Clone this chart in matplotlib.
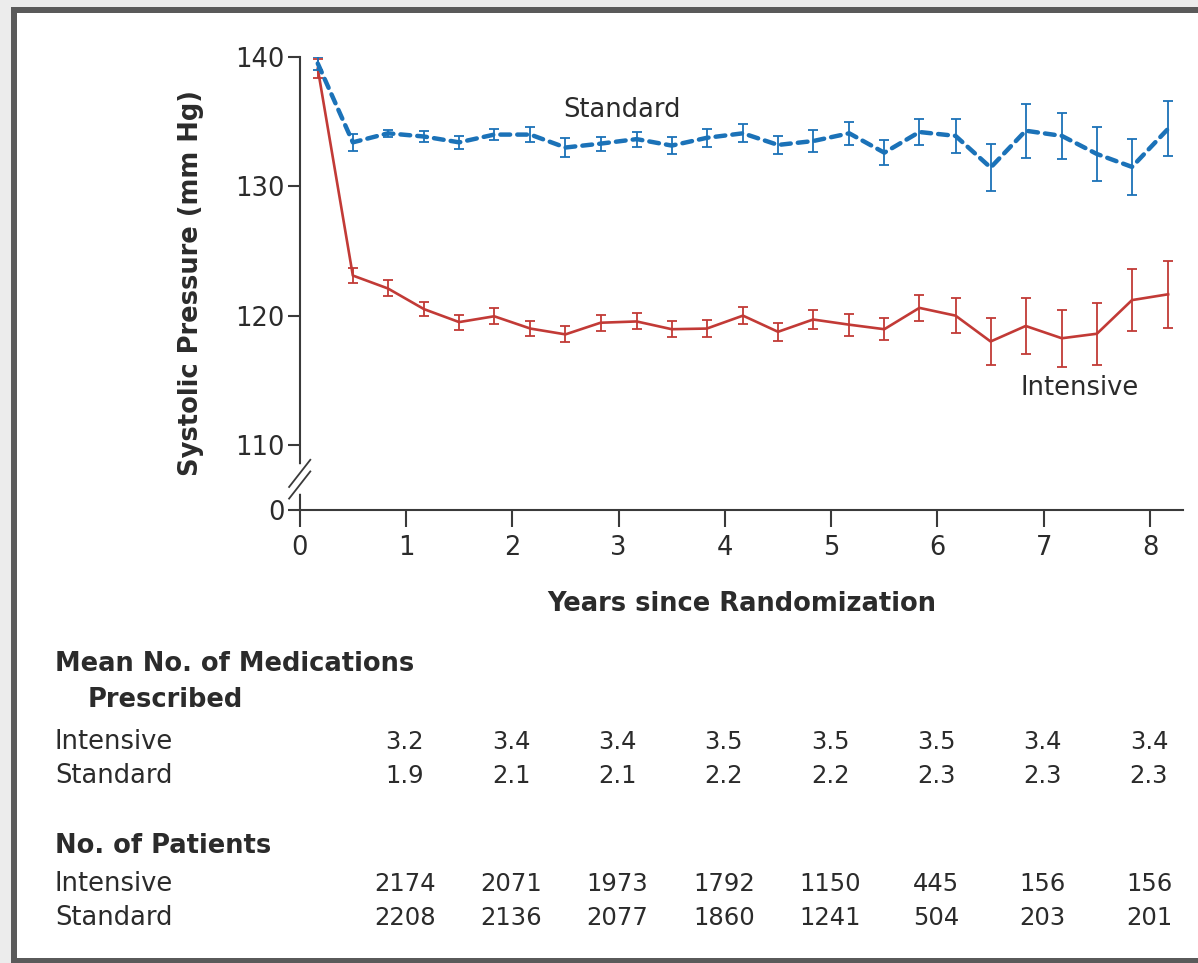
import numpy as np
import matplotlib
matplotlib.use('Agg')
import matplotlib.pyplot as plt
from matplotlib import transforms
from matplotlib.patches import Rectangle
from matplotlib.lines import Line2D

# visit times (years since randomization)
years = [0.17, 0.5, 0.83, 1.17, 1.5, 1.83, 2.17, 2.5, 2.83, 3.17, 3.5, 3.83,
         4.17, 4.5, 4.83, 5.17, 5.5, 5.83, 6.17, 6.5, 6.83, 7.17, 7.5, 7.83, 8.17]

standard = [139.5, 133.4, 134.1, 133.85, 133.4, 134.0, 134.0, 133.0, 133.3, 133.65,
            133.15, 133.75, 134.1, 133.2, 133.5, 134.1, 132.6, 134.2, 133.9, 131.45,
            134.3, 133.9, 132.5, 131.5, 134.45]
standard_ci = [0.5, 0.67, 0.28, 0.39, 0.48, 0.41, 0.58, 0.7, 0.54, 0.58, 0.64, 0.68,
               0.7, 0.67, 0.85, 0.88, 0.95, 1.0, 1.3, 1.82, 2.08, 1.8, 2.08, 2.14, 2.14]

intensive = [139.1, 123.1, 122.1, 120.5, 119.5, 119.95, 119.0, 118.55, 119.45, 119.55,
             118.95, 119.0, 120.0, 118.75, 119.7, 119.3, 118.95, 120.6, 120.0, 118.0,
             119.2, 118.25, 118.6, 121.2, 121.65]
intensive_ci = [0.75, 0.6, 0.62, 0.55, 0.58, 0.62, 0.59, 0.62, 0.62, 0.62, 0.64, 0.64,
                0.68, 0.7, 0.75, 0.84, 0.86, 1.0, 1.33, 1.8, 2.15, 2.2, 2.39, 2.37, 2.58]

# table below the plot
table_years = [1, 2, 3, 4, 5, 6, 7, 8]
meds_intensive = ['3.2', '3.4', '3.4', '3.5', '3.5', '3.5', '3.4', '3.4']
meds_standard = ['1.9', '2.1', '2.1', '2.2', '2.2', '2.3', '2.3', '2.3']
n_intensive = [2174, 2071, 1973, 1792, 1150, 445, 156, 156]
n_standard = [2208, 2136, 2077, 1860, 1241, 504, 203, 201]

BLUE = '#1b72b8'
RED = '#c23a36'
INK = '#2b2b2b'
AXC = '#3a3a3a'

plt.rcParams['font.family'] = ['DejaVu Sans']

W, H = 1198, 963
fig = plt.figure(figsize=(W / 100, H / 100), dpi=100)

# page frame
fig.add_artist(Rectangle((0, 0), 1, 1, transform=fig.transFigure, facecolor='#ececec',
                         edgecolor='none', zorder=-10))
fig.add_artist(Rectangle((11 / W, 0), 1, (H - 7) / H, transform=fig.transFigure,
                         facecolor='#5a5a5a', edgecolor='none', zorder=-9))
fig.add_artist(Rectangle((17 / W, 5 / H), 1, (H - 18) / H, transform=fig.transFigure,
                         facecolor='white', edgecolor='none', zorder=-8))

# y axis: 0 sits just under 110 after the break
y_zero = 105
ax = fig.add_axes([299.7 / W, 1 - 509.6 / H, 883.3 / W, 452.6 / H])
ax.set_xlim(0, 8.31)
ax.set_ylim(y_zero, 140)
ax.patch.set_alpha(0)

ax.errorbar(years, intensive, yerr=intensive_ci, fmt='none', ecolor=RED,
            elinewidth=1.3, capsize=3.5, capthick=1.3, zorder=3)
ax.plot(years, intensive, color=RED, lw=1.9, zorder=4)

ax.errorbar(years, standard, yerr=standard_ci, fmt='none', ecolor=BLUE,
            elinewidth=1.3, capsize=3.5, capthick=1.3, zorder=5)
ax.plot(years, standard, color=BLUE, lw=3.2, linestyle=(0, (2.2, 1.6)),
        dash_capstyle='round', zorder=6)

ax.text(3.03, 135.9, 'Standard', fontsize=18.5, color=INK, ha='center', va='center')
ax.text(7.34, 114.4, 'Intensive', fontsize=18.5, color=INK, ha='center', va='center')

for s in ['top', 'right']:
    ax.spines[s].set_visible(False)
for s in ['left', 'bottom']:
    ax.spines[s].set_color(AXC)
    ax.spines[s].set_linewidth(1.5)

ax.set_yticks([y_zero, 110, 120, 130, 140])
ax.set_yticklabels(['0', '110', '120', '130', '140'])
ax.set_xticks(range(0, 9))
ax.tick_params(axis='both', direction='out', color=AXC, width=1.5, labelsize=18.5,
               labelcolor=INK)
ax.tick_params(axis='y', length=9, pad=2)
ax.tick_params(axis='x', length=12, pad=6)

# axis break marks
tb = transforms.blended_transform_factory(ax.transAxes, ax.transData)
ax.add_line(Line2D([0, 0], [106.4, 108.3], transform=tb, color='white', lw=4,
                   zorder=7, clip_on=False))
for dy in (-0.45, 0.45):
    ax.add_line(Line2D([-0.012, 0.012], [106.3 + dy, 108.4 + dy], transform=tb,
                       color=AXC, lw=1.3, zorder=8, clip_on=False))

ax.set_ylabel('Systolic Pressure (mm Hg)', fontsize=18.5, fontweight='bold',
              color=INK, labelpad=22)
ax.set_xlabel('Years since Randomization', fontsize=18.5, fontweight='bold',
              color=INK, labelpad=22)

# table rows
tt = transforms.blended_transform_factory(ax.transData, fig.transFigure)
lx = 55 / W


def fy(py):
    return 1 - py / H


fig.text(lx, fy(664), 'Mean No. of Medications', fontsize=18.5, fontweight='bold',
         color=INK, va='center')
fig.text(88 / W, fy(700), 'Prescribed', fontsize=18.5, fontweight='bold',
         color=INK, va='center')
fig.text(lx, fy(742), 'Intensive', fontsize=18.5, color=INK, va='center')
fig.text(lx, fy(776), 'Standard', fontsize=18.5, color=INK, va='center')
fig.text(lx, fy(846), 'No. of Patients', fontsize=18.5, fontweight='bold',
         color=INK, va='center')
fig.text(lx, fy(884), 'Intensive', fontsize=18.5, color=INK, va='center')
fig.text(lx, fy(918), 'Standard', fontsize=18.5, color=INK, va='center')

for yr, a, b, c, d in zip(table_years, meds_intensive, meds_standard,
                          n_intensive, n_standard):
    ax.text(yr - 0.01, fy(742), a, transform=tt, fontsize=17.5, color=INK,
            ha='center', va='center')
    ax.text(yr - 0.01, fy(776), b, transform=tt, fontsize=17.5, color=INK,
            ha='center', va='center')
    ax.text(yr - 0.01, fy(884), str(c), transform=tt, fontsize=17.5, color=INK,
            ha='center', va='center')
    ax.text(yr - 0.01, fy(918), str(d), transform=tt, fontsize=17.5, color=INK,
            ha='center', va='center')

fig.savefig('out.png', dpi=100)
